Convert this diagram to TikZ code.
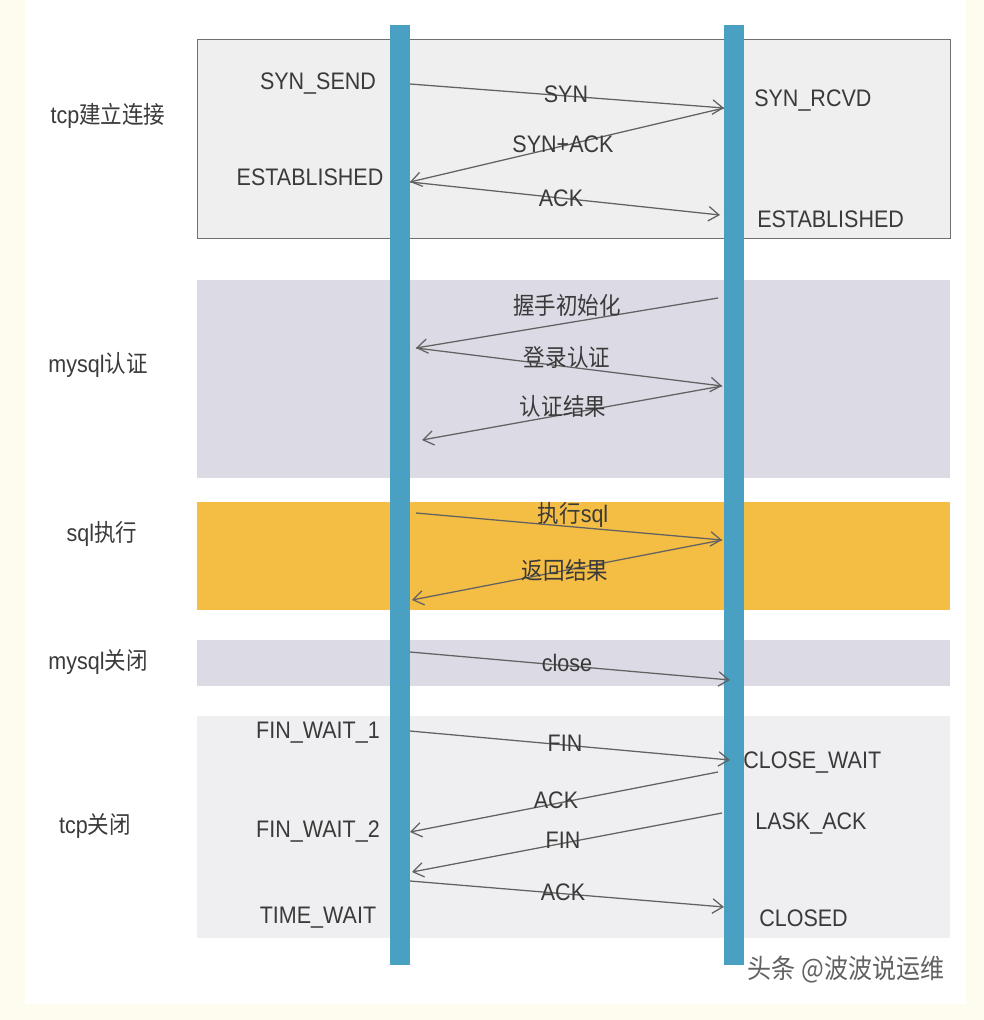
\documentclass[tikz,border=0pt]{standalone}
\usepackage{fontspec}
\setmainfont[FakeStretch=0.9]{Liberation Sans}
\newfontfamily\cjk[FakeStretch=0.9]{Noto Sans CJK SC}
\usetikzlibrary{arrows.meta,calc}

\definecolor{cream}{HTML}{FEFCEF}
\definecolor{tcpgray}{HTML}{EFEFEF}
\definecolor{framegray}{HTML}{707070}
\definecolor{mygray}{HTML}{DCDBE5}
\definecolor{sqlgold}{HTML}{F4BD44}
\definecolor{closegray}{HTML}{EFEFF1}
\definecolor{lifeblue}{HTML}{4AA0C2}
\definecolor{msggray}{HTML}{626262}
\definecolor{txtgray}{HTML}{3A3A3A}

\begin{document}
\begin{tikzpicture}[x=0.025cm,y=-0.025cm,>={Straight Barb[length=2.6mm,width=3.6mm]},
state/.style ={text=txtgray, inner sep=0pt, font=\fontsize{17}{20}\selectfont},
phase/.style ={text=txtgray, inner sep=0pt, font=\fontsize{17}{20}\selectfont},
msg/.style ={text=txtgray, inner sep=0pt, font=\fontsize{17}{20}\selectfont},
link/.style ={->, draw=msggray, line width=0.9pt},
lifeline/.style ={draw=lifeblue, line width=0.5cm}
]
\useasboundingbox (0,0) rectangle (984,1020);
\fill[cream] (0,0) rectangle (984,1020);
\fill[white] (25,0) rectangle (966,1004);

% phases
\draw[fill=tcpgray, draw=framegray, line width=0.6pt] (197,39) rectangle (950,238);
\fill[mygray] (197,280) rectangle (950,478);
\fill[sqlgold] (197,502) rectangle (950,610);
\fill[mygray] (197,640) rectangle (950,686);
\fill[closegray] (197,716) rectangle (950,938);

\draw (108,116) node[phase] (P1) {tcp{\cjk 建立连接}};
\draw (98,365) node[phase] (P2) {mysql{\cjk 认证}};
\draw (102,534) node[phase] (P3) {sql{\cjk 执行}};
\draw (98,662) node[phase] (P4) {mysql{\cjk 关闭}};
\draw (95,826) node[phase] (P5) {tcp{\cjk 关闭}};

% lifelines
\coordinate (cTop) at (400,25);
\coordinate (cBot) at (400,965);
\coordinate (sTop) at (734,25);
\coordinate (sBot) at (734,965);
\draw[lifeline] (cTop)--(cBot);
\draw[lifeline] (sTop)--(sBot);

% states
\draw (318,84) node[state] (synsend) {SYN\_SEND};
\draw (310,177) node[state] (estC) {ESTABLISHED};
\draw (754,101) node[state,anchor=west] (synrcvd) {SYN\_RCVD};
\draw (757,219) node[state,anchor=west] (estS) {ESTABLISHED};
\draw (318,733) node[state] (fw1) {FIN\_WAIT\_1};
\draw (318,832) node[state] (fw2) {FIN\_WAIT\_2};
\draw (318,918) node[state] (tw) {TIME\_WAIT};
\draw (743,763) node[state,anchor=west] (cw) {CLOSE\_WAIT};
\draw (755,824) node[state,anchor=west] (lack) {LASK\_ACK};
\draw (759,918) node[state,anchor=west] (closed) {CLOSED};

% message ends
\coordinate (c1) at (410,84);
\coordinate (s1) at (724,108);
\coordinate (c2) at (410,182);
\coordinate (s2) at (720,215);
\coordinate (s3) at (718,298);
\coordinate (c3) at (416,348);
\coordinate (s4) at (722,386);
\coordinate (c4) at (422,440);
\coordinate (c5) at (416,513);
\coordinate (s5) at (722,540);
\coordinate (c6) at (412,600);
\coordinate (c7) at (410,652);
\coordinate (s6) at (730,680);
\coordinate (c8) at (410,731);
\coordinate (s7) at (730,760);
\coordinate (s8) at (718,772);
\coordinate (c9) at (410,832);
\coordinate (s9) at (722,813);
\coordinate (c10) at (412,872);
\coordinate (c11) at (410,881);
\coordinate (s10) at (724,907);

\draw[link] (c1)--(s1);
\draw[link] (s1)--(c2);
\draw[link] (c2)--(s2);
\draw[link] (s3)--(c3);
\draw[link] (c3)--(s4);
\draw[link] (s4)--(c4);
\draw[link] (c5)--(s5);
\draw[link] (s5)--(c6);
\draw[link] (c7)--(s6);
\draw[link] (c8)--(s7);
\draw[link] (s8)--(c9);
\draw[link] (s9)--(c10);
\draw[link] (c11)--(s10);

% message labels
\draw (566,94) node[msg] (m1) {SYN};
\draw (563,144) node[msg] (m2) {SYN+ACK};
\draw (561,198) node[msg] (m3) {ACK};
\draw (567,305) node[msg] (m4) {\cjk 握手初始化};
\draw (567,357) node[msg] (m5) {\cjk 登录认证};
\draw (563,406) node[msg] (m6) {\cjk 认证结果};
\draw (573,515) node[msg] (m7) {{\cjk 执行}sql};
\draw (565,570) node[msg] (m8) {\cjk 返回结果};
\draw (567,663) node[msg] (m9) {close};
\draw (565,743) node[msg] (m10) {FIN};
\draw (556,800) node[msg] (m11) {ACK};
\draw (563,840) node[msg] (m12) {FIN};
\draw (563,892) node[msg] (m13) {ACK};

\draw (846,970) node[msg, text=msggray, font=\fontsize{19}{22}\selectfont] (mark) {\cjk 头条 @波波说运维};
\end{tikzpicture}
\end{document}
